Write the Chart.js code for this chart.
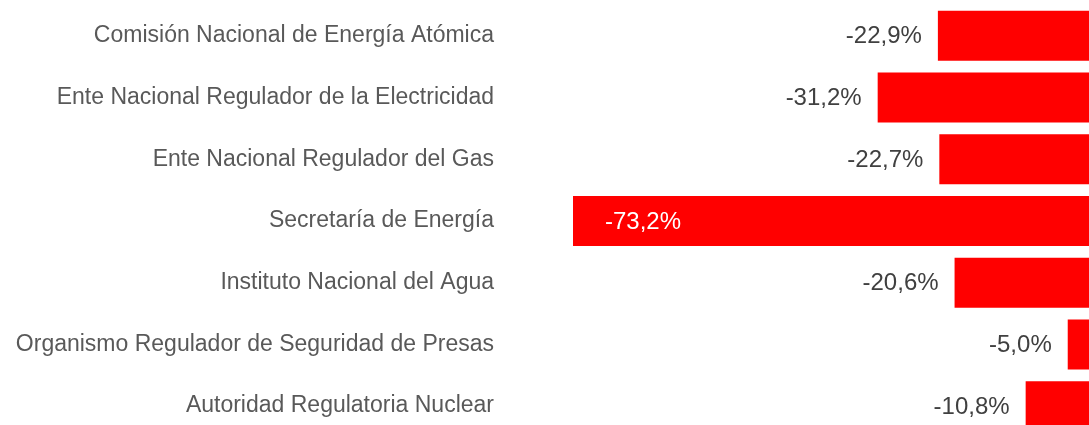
<!DOCTYPE html>
<html>
<head>
<meta charset="utf-8">
<script src="https://cdn.jsdelivr.net/npm/chart.js@4/dist/chart.umd.min.js"></script>
<style>
    html, body { margin: 0; padding: 0; overflow: hidden; background: #ffffff; }
    #wrap { position: relative; width: 1104px; height: 437px; }
</style>
</head>
<body>
<div id="wrap"><canvas id="barChart"></canvas></div>
<script>
// Organismos y variación (%)
const organismos = [
    'Comisión Nacional de Energía Atómica',
    'Ente Nacional Regulador de la Electricidad',
    'Ente Nacional Regulador del Gas',
    'Secretaría de Energía',
    'Instituto Nacional del Agua',
    'Organismo Regulador de Seguridad de Presas',
    'Autoridad Regulatoria Nuclear'
];
const variacion = [-22.9, -31.2, -22.7, -73.2, -20.6, -5.0, -10.8];

const colors = {
    bar: '#ff0000',
    text: '#595959',
    value: '#404040',
    inside: '#ffffff'
};
const fontFamily = "'Liberation Sans', Arial, sans-serif";

function formatPct(v) {
    return v.toFixed(1).replace('.', ',') + '%';
}

// Etiquetas de valor (fuera de la barra, o dentro si no caben)
const valueLabels = {
    id: 'valueLabels',
    afterDatasetsDraw(chart) {
        const ctx = chart.ctx;
        const area = chart.chartArea;
        const meta = chart.getDatasetMeta(0);
        ctx.save();
        ctx.font = '24px ' + fontFamily;
        ctx.textBaseline = 'middle';
        meta.data.forEach(function(bar, i) {
            const text = formatPct(variacion[i]);
            const w = ctx.measureText(text).width;
            if (bar.x - 16 - w < area.left) {
                ctx.fillStyle = colors.inside;
                ctx.textAlign = 'left';
                ctx.fillText(text, bar.x + 32, bar.y + 1);
            } else {
                ctx.fillStyle = colors.value;
                ctx.textAlign = 'right';
                ctx.fillText(text, bar.x - 16, bar.y + 1);
            }
        });
        ctx.restore();
    }
};

new Chart(document.getElementById('barChart'), {
    type: 'bar',
    data: {
        labels: organismos,
        datasets: [{
            data: variacion,
            backgroundColor: colors.bar,
            borderWidth: 0,
            categoryPercentage: 1,
            barPercentage: 0.81
        }]
    },
    options: {
        indexAxis: 'y',
        responsive: true,
        maintainAspectRatio: false,
        animation: false,
        layout: { padding: { top: 5, right: 0, bottom: 0, left: 0 } },
        plugins: {
            legend: { display: false },
            tooltip: { enabled: false }
        },
        scales: {
            x: {
                display: false,
                min: -73.2,
                max: 0
            },
            y: {
                grid: { display: false, drawTicks: false },
                border: { display: false },
                ticks: {
                    color: colors.text,
                    padding: 79,
                    font: { family: fontFamily, size: 23 }
                },
                afterFit: function(scale) {
                    // ancho fijo del eje; sin relleno vertical extra
                    scale.width = 573;
                    scale.paddingTop = 0;
                    scale.paddingBottom = 0;
                }
            }
        }
    },
    plugins: [valueLabels]
});
</script>
</body>
</html>
